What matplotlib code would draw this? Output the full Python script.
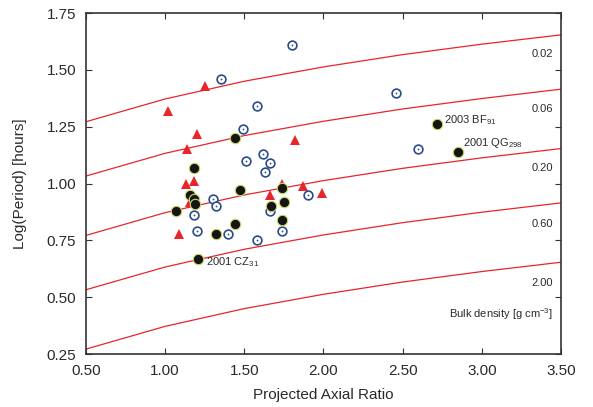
import matplotlib
matplotlib.use("Agg")
import matplotlib.pyplot as plt

plt.rcParams['font.family'] = ['Liberation Sans', 'DejaVu Sans']
plt.rcParams['mathtext.default'] = 'regular'

# Spin-barrier curves for each bulk density
curve_x = [0.5, 1.0, 1.5, 2.0, 2.5, 3.0, 3.5]
densities = ["0.02", "0.06", "0.20", "0.60", "2.00"]
curve_002 = [1.272, 1.372, 1.450, 1.513, 1.567, 1.613, 1.654]
curve_006 = [1.033, 1.133, 1.211, 1.274, 1.328, 1.374, 1.415]
curve_020 = [0.772, 0.872, 0.950, 1.013, 1.067, 1.113, 1.154]
curve_060 = [0.533, 0.633, 0.711, 0.774, 0.828, 0.874, 0.915]
curve_200 = [0.272, 0.372, 0.450, 0.513, 0.567, 0.613, 0.654]
density_label_y = [1.570, 1.330, 1.067, 0.822, 0.561]

# Open circles with dot
blue_x = [1.80, 1.35, 1.58, 2.46, 1.49, 1.51, 1.62, 1.66, 1.63, 2.60,
          1.30, 1.32, 1.18, 1.20, 1.40, 1.58, 1.66, 1.74, 1.90]
blue_y = [1.61, 1.46, 1.34, 1.40, 1.24, 1.10, 1.13, 1.09, 1.05, 1.15,
          0.93, 0.90, 0.86, 0.79, 0.78, 0.75, 0.88, 0.79, 0.95]

# Filled black circles
black_x = [1.44, 1.18, 1.47, 1.16, 1.18, 1.19, 1.07, 1.74, 1.75, 1.67,
           1.74, 1.44, 1.32, 1.21, 2.72, 2.85]
black_y = [1.20, 1.07, 0.97, 0.95, 0.93, 0.91, 0.88, 0.98, 0.92, 0.90,
           0.84, 0.82, 0.78, 0.67, 1.26, 1.14]

# Red triangles
red_x = [1.25, 1.02, 1.20, 1.14, 1.82, 1.13, 1.18, 1.16, 1.74, 1.87,
         1.99, 1.66, 1.09]
red_y = [1.43, 1.32, 1.22, 1.15, 1.19, 1.00, 1.01, 0.92, 1.00, 0.99,
         0.96, 0.95, 0.78]

labels = ["2001 CZ$_{31}$", "2003 BF$_{91}$", "2001 QG$_{298}$"]
label_x = [1.256, 2.762, 2.882]
label_y = [0.655, 1.279, 1.178]

red = '#E8252B'
navy = '#2B4C8C'
txt = '#2a2a2a'

fig = plt.figure(figsize=(5.93, 4.07), dpi=100)
ax = fig.add_axes([0.145, 0.130, 0.801, 0.838])

for cy in [curve_002, curve_006, curve_020, curve_060, curve_200]:
    ax.plot(curve_x, cy, color=red, lw=0.9, zorder=1)

for lab, ly in zip(densities, density_label_y):
    ax.text(3.45, ly, lab, ha='right', va='center', fontsize=8, color=txt)
ax.text(3.45, 0.426, "Bulk density [g cm$^{-3}$]", ha='right', va='center',
        fontsize=8, color=txt)

ax.plot(red_x, red_y, linestyle='none', marker='^', markersize=6.5,
        color=red, markeredgewidth=0, zorder=3)
ax.plot(blue_x, blue_y, linestyle='none', marker='o', markersize=6.3,
        markerfacecolor='white', markeredgecolor=navy, markeredgewidth=1.2,
        zorder=4)
ax.plot(blue_x, blue_y, linestyle='none', marker='o', markersize=1.3,
        color=navy, markeredgewidth=0, zorder=5)
ax.plot(black_x, black_y, linestyle='none', marker='o', markersize=7.5,
        markerfacecolor='#151515', markeredgecolor='#C9D96B',
        markeredgewidth=0.8, zorder=6)

for lab, lx, ly in zip(labels, label_x, label_y):
    ax.text(lx, ly, lab, ha='left', va='center', fontsize=8, color=txt)

ax.set_xlim(0.5, 3.5)
ax.set_ylim(0.25, 1.75)
ax.set_xticks([0.5, 1.0, 1.5, 2.0, 2.5, 3.0, 3.5])
ax.set_yticks([0.25, 0.5, 0.75, 1.0, 1.25, 1.5, 1.75])
ax.set_xticklabels([f"{v:.2f}" for v in ax.get_xticks()])
ax.set_yticklabels([f"{v:.2f}" for v in ax.get_yticks()])
ax.tick_params(direction='in', top=True, right=True, length=4, width=0.8,
               labelsize=11, labelcolor=txt, color='#333333')
ax.tick_params(axis='x', pad=7)
ax.tick_params(axis='y', pad=7)
for s in ax.spines.values():
    s.set_linewidth(1.2)
    s.set_color('#333333')

ax.set_xlabel("Projected Axial Ratio", fontsize=11, color=txt, labelpad=7)
ax.set_ylabel("Log(Period) [hours]", fontsize=11, color=txt, labelpad=14)

fig.savefig("out.png", dpi=100)
